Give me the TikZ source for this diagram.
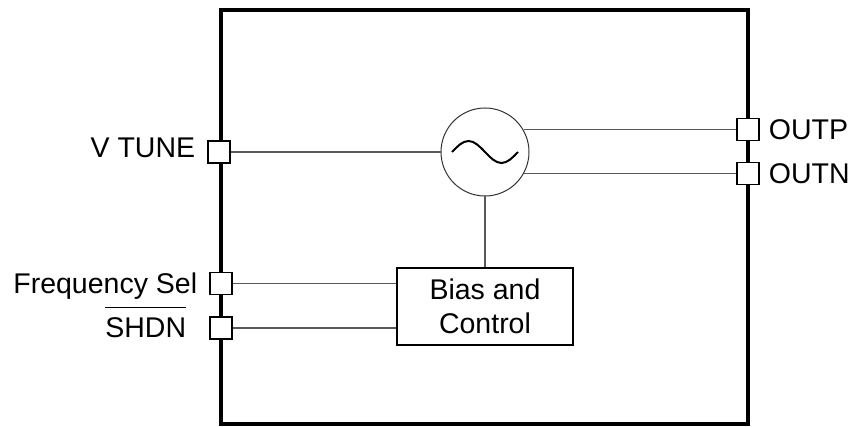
\documentclass[tikz,border=0pt]{standalone}
\usepackage{fontspec}
\setmainfont{Liberation Sans}
\usetikzlibrary{positioning}
\newcommand{\barred}[1]{\setbox0\hbox{#1}\rlap{\raisebox{1.05em}{\rule{\wd0}{1.5pt}}}\box0}
\tikzset{
    %Define style for the chip outline
    chipbox/.style={
        rectangle,
        draw=black, line width=4pt,
        minimum width=527pt,
        minimum height=414pt,
        inner sep=0pt
    },
    %Define style for pins
    pinbox/.style={
        rectangle,
        draw=black, line width=1.3pt,
        fill=white,
        minimum size=22pt,
        inner sep=0pt
    },
    pinlabel/.style={
        inner sep=0pt,
        font=\fontsize{28.5}{34}\selectfont,
        text height=20pt,
        text depth=0pt
    },
    oscillator/.style={
        circle,
        draw=black!80, line width=1pt,
        minimum size=88pt,
        inner sep=0pt
    },
    blockbox/.style={
        rectangle,
        draw=black, line width=1.4pt,
        minimum width=176pt,
        minimum height=77pt,
        align=center,
        font=\fontsize{28.5}{34}\selectfont
    },
    % Define wire style
    wire/.style={
        draw=black!65,
        line width=1.1pt}
}
\begin{document}
\begin{tikzpicture}[x=1pt,y=-1pt]
    \useasboundingbox (0,0) rectangle (865,427);
    %nodes
    \node[chipbox] (chip) at (484.5,217) {};
    \node[oscillator] (osc) at (485,152) {};
    \node[blockbox, below=71pt of osc] (bias) {Bias and\\Control};
    %pins
    \node[pinbox] (vtune) at (chip.west |- osc) {};
    \node[pinbox] (freq) at (221,283.5) {};
    \node[pinbox] (shdn) at (221,328) {};
    \node[pinbox] (outp) at (748,129.5) {};
    \node[pinbox] (outn) at (748,173.5) {};
    \path[wire]
    (vtune) edge (osc)
    (osc) edge (bias)
    (osc.30 |- outp) edge (outp)
    (osc.-29 |- outn) edge (outn)
    (freq) edge (freq -| bias.west)
    (shdn) edge (shdn -| bias.west);
    %labels
    \node[pinlabel, left=12pt of vtune, yshift=4pt] (vtunelbl) {V TUNE};
    \node[pinlabel, left=12pt of freq] (freqlbl) {Frequency Sel};
    \node[pinlabel, left=23pt of shdn] (shdnlbl) {\barred{SHDN}};
    \node[pinlabel, right=9pt of outp] (outplbl) {OUTP};
    \node[pinlabel, right=9pt of outn] (outnlbl) {OUTN};
    %sine wave
    \draw[line width=2pt] ([xshift=-33pt]osc.center) sin ++(16.5,-11) cos ++(16.5,11) sin ++(16.5,11) cos ++(16.5,-11);
\end{tikzpicture}
\end{document}
